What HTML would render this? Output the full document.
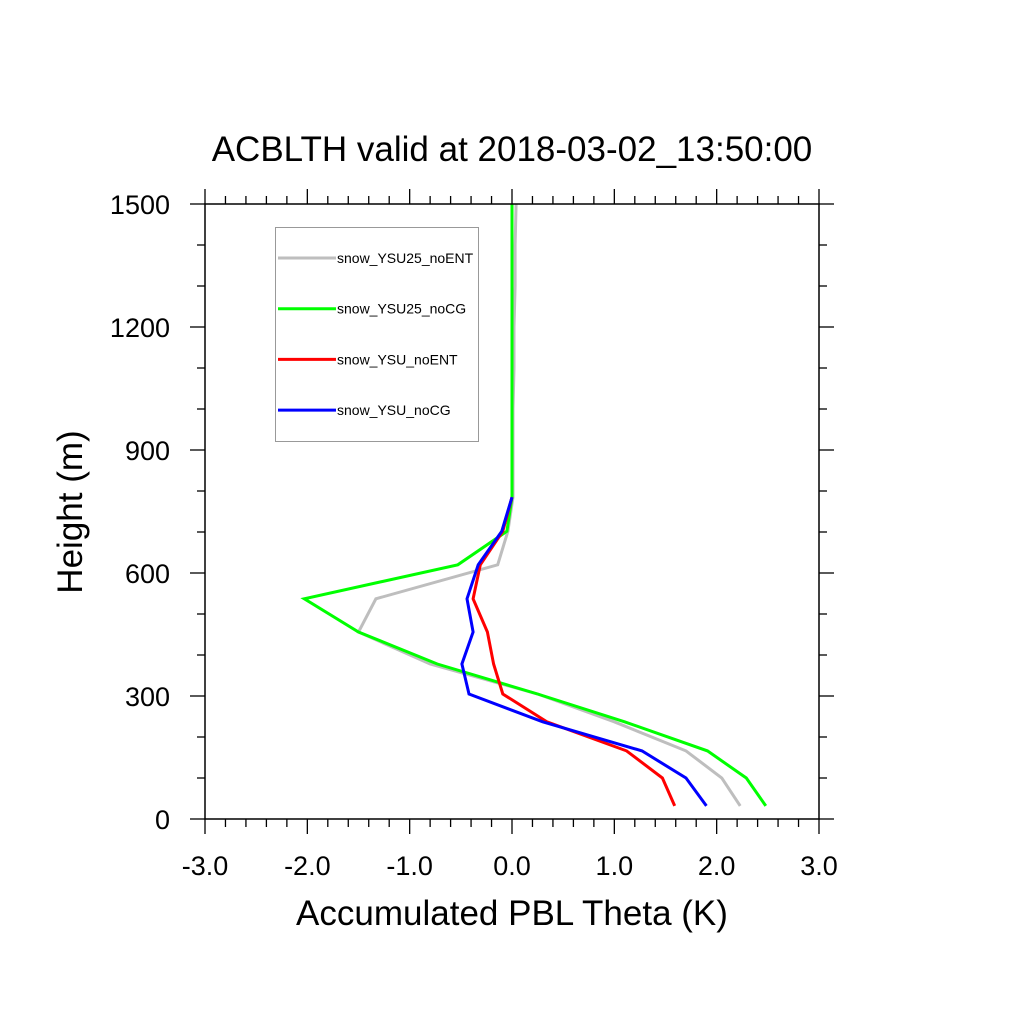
<!DOCTYPE html>
<html><head><meta charset="utf-8"><style>body{margin:0;background:#fff}svg{display:block}</style></head>
<body>
<svg id="chart" width="1024" height="1024" xmlns="http://www.w3.org/2000/svg" font-family="Liberation Sans, sans-serif"></svg>
<script>
const heights = [32,100,166,237,305,378,456,537,620,702,785,900,1000,1100,1200,1300,1400,1500];
const seriesNames = ["snow_YSU25_noENT","snow_YSU25_noCG","snow_YSU_noENT","snow_YSU_noCG"];
const seriesColors = ["#bebebe","#00ff00","#ff0000","#0000ff"];
const grayVals  = [2.23,2.05,1.7,1.0,0.25,-0.8,-1.5,-1.33,-0.14,-0.04,0.01,0.01,0.01,0.02,0.02,0.03,0.03,0.04];
const greenVals = [2.48,2.29,1.91,1.1,0.25,-0.73,-1.5,-2.03,-0.53,-0.05,0.0,0.0,0.0,0.0,0.0,0.0,0.0,0.0];
const redVals   = [1.59,1.47,1.12,0.34,-0.09,-0.18,-0.24,-0.38,-0.31,-0.09,0.0];
const blueVals  = [1.9,1.7,1.27,0.3,-0.42,-0.49,-0.38,-0.44,-0.33,-0.1,0.0];
const xTicks = ["-3.0","-2.0","-1.0","0.0","1.0","2.0","3.0"];
const yTicks = [0,300,600,900,1200,1500];
const allVals=[greenVals,grayVals,redVals,blueVals];
const drawOrder=[1,0,2,3];

const L=205,R=819,T=204,B=819;
const xs=v=>L+(v+3)/6*(R-L);
const ys=h=>B-h/1500*(B-T);
const svg=document.getElementById('chart');
const NS="http://www.w3.org/2000/svg";
function mk(tag,attrs,parent){const e=document.createElementNS(NS,tag);for(const k in attrs)e.setAttribute(k,attrs[k]);(parent||svg).appendChild(e);return e;}

let t=mk('text',{x:512,y:161,'text-anchor':'middle','font-size':35});t.textContent="ACBLTH valid at 2018-03-02_13:50:00";


t=mk('text',{x:512,y:925,'text-anchor':'middle','font-size':35});t.textContent="Accumulated PBL Theta (K)";


t=mk('text',{x:82,y:512,'text-anchor':'middle','font-size':35,transform:'rotate(-90 82 512)'});t.textContent="Height (m)";



const g=mk('g',{stroke:'#000','stroke-width':1.3});


for(let i=0;i<=30;i++){const v=-3+i*0.2;const x=xs(v);const maj=i%5===0;const len=maj?15:8;
  mk('line',{x1:x,y1:B,x2:x,y2:B+len},g);mk('line',{x1:x,y1:T,x2:x,y2:T-len},g);}
for(let i=0;i<=15;i++){const y=ys(i*100);const maj=i%3===0;const len=maj?15:8;
  mk('line',{x1:L,y1:y,x2:L-len,y2:y},g);mk('line',{x1:R,y1:y,x2:R+len,y2:y},g);}
xTicks.forEach((s,i)=>{const tt=mk('text',{x:xs(parseFloat(s)),y:875,'text-anchor':'middle','font-size':27});tt.textContent=s;
  
  });
yTicks.forEach(h=>{const tt=mk('text',{x:170,y:ys(h)+10,'text-anchor':'end','font-size':27});tt.textContent=h;
  
  });

drawOrder.forEach(si=>{
  const vals=allVals[si];
  const pts=vals.map((v,i)=>xs(v).toFixed(1)+','+ys(heights[i]).toFixed(1)).join(' ');
  const p=mk('polyline',{points:pts,fill:'none',stroke:seriesColors[si===0?1:si===1?0:si],'stroke-width':3,'stroke-linejoin':'miter'});
  
  
});

const fr=mk('rect',{x:L,y:T,width:R-L,height:B-T,fill:'none',stroke:'#000','stroke-width':1.5});



const lg=mk('g',{});


mk('rect',{x:275.5,y:227.5,width:203,height:214,fill:'#fff',stroke:'#999','stroke-width':1},lg);
seriesNames.forEach((n,i)=>{const y=258+i*50.7;
  const ln=mk('line',{x1:278,y1:y,x2:336,y2:y,stroke:seriesColors[i],'stroke-width':3},lg);
  
  
  const tt=mk('text',{x:337,y:y+5,'font-size':14},lg);tt.textContent=n;
  
  
});
</script>
</body></html>
